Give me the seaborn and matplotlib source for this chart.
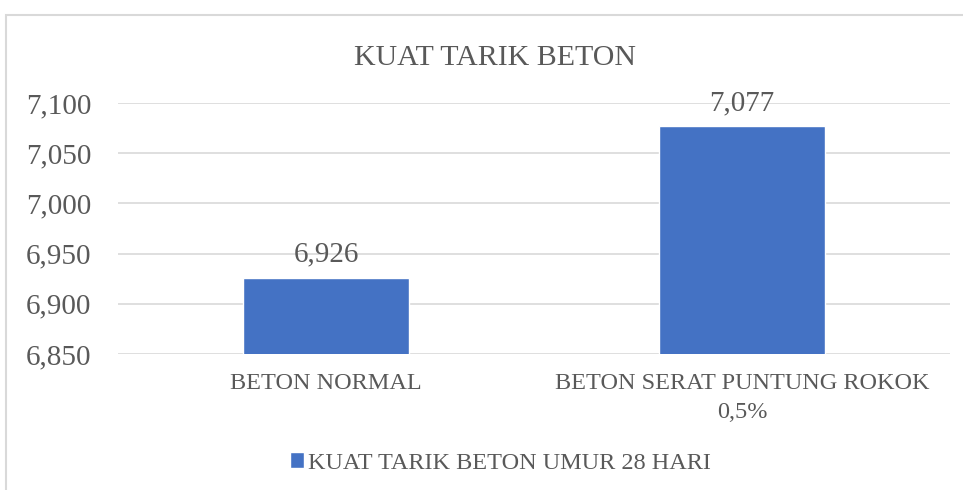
import pandas as pd
import matplotlib.pyplot as plt
import seaborn as sns
from matplotlib.ticker import FuncFormatter, MultipleLocator
from matplotlib.patches import Rectangle

kategori = ["BETON NORMAL", "BETON SERAT PUNTUNG ROKOK\n0,5%"]
kuat_tarik = [6.926, 7.077]
seri = "KUAT TARIK BETON UMUR 28 HARI"

df = pd.DataFrame({"kategori": kategori, "nilai": kuat_tarik, "seri": seri})

sns.set_style("white")
plt.rcParams['font.family'] = ['Liberation Serif', 'DejaVu Serif']
abu = "#595959"

fig = plt.figure(figsize=(9.63, 4.9), dpi=100)
ax = fig.add_axes([0.1225, 0.2776, 0.864, 0.5122])

sns.barplot(data=df, x="kategori", y="nilai", hue="seri", palette=["#4472C4"],
            saturation=1, width=0.4, ax=ax, zorder=3)

ax.set_ylim(6.85, 7.1)
ax.yaxis.set_major_locator(MultipleLocator(0.05))
ax.yaxis.set_major_formatter(FuncFormatter(lambda v, p: f"{v:.3f}".replace('.', ',')))
ax.grid(axis='y', color='#d9d9d9', linewidth=1.2, zorder=0)
for s in ax.spines.values():
    s.set_visible(False)
ax.tick_params(axis='y', length=0, pad=19, labelsize=21, labelcolor=abu)
ax.tick_params(axis='x', length=0, pad=14, labelsize=17.5, labelcolor=abu)
for t in ax.get_xticklabels():
    t.set_linespacing(1.45)
ax.set_xlabel("")
ax.set_ylabel("")

for i, v in enumerate(kuat_tarik):
    ax.text(i, v + 0.01, f"{v:.3f}".replace('.', ','), ha='center', va='bottom',
            fontsize=21, color=abu)

fig.text(0.514, 0.882, "KUAT TARIK BETON", ha='center', va='center', fontsize=21.5, color=abu)

leg = ax.legend(loc='center', bbox_to_anchor=(0.46, -0.434), frameon=False, fontsize=17.5,
                handlelength=0.55, handleheight=0.6, handletextpad=0.2)
for t in leg.get_texts():
    t.set_color(abu)

fig.patches.append(Rectangle((6 / 963, -0.1), 1.2, 1.1 - 15 / 490, transform=fig.transFigure,
                             fill=False, edgecolor='#d9d9d9', linewidth=1.5))

plt.savefig("out.png", dpi=100)
